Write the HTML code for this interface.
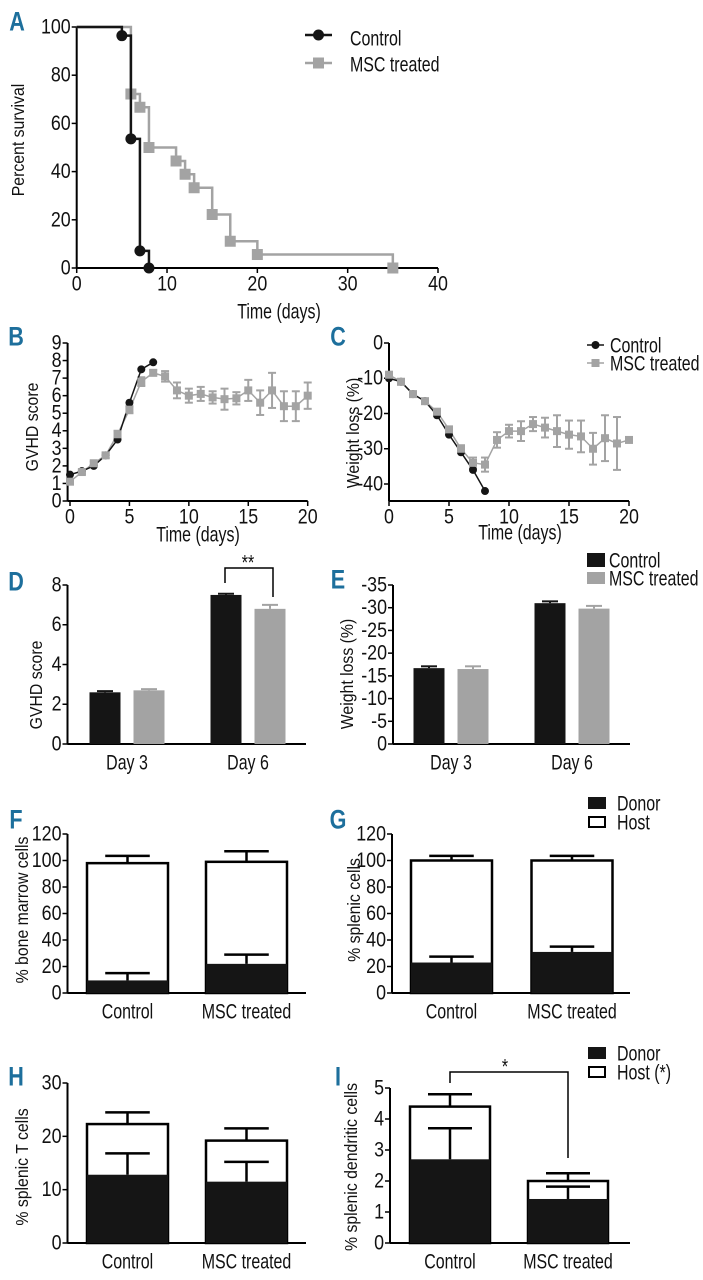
<!DOCTYPE html>
<html><head><meta charset="utf-8">
<style>
html,body{margin:0;padding:0;background:#fff;}
svg{display:block;}
.t{font-family:"Liberation Sans",sans-serif;font-size:21px;fill:#111;}
.n{font-family:"Liberation Sans",sans-serif;font-size:21px;fill:#111;}
.yl{font-family:"Liberation Sans",sans-serif;font-size:18px;fill:#111;}
.pl{font-family:"Liberation Sans",sans-serif;font-size:27px;font-weight:bold;fill:#1d6f9c;}
</style></head>
<body>
<svg id="fig" xmlns="http://www.w3.org/2000/svg" width="703" height="1280" viewBox="0 0 703 1280"></svg>
<script>
// ---------- data ----------
// Panel A (Kaplan-Meier)
const aCtrlTimes=[5,6,7,8];
const aCtrlSurv=[96.4,53.6,7.1,0];
const aMscTimes=[6,7,8,11,12,13,15,17,20,35];
const aMscSurv=[72.2,66.7,50,44.4,38.9,33.3,22.2,11.1,5.6,0];
const aXTicks=[0,10,20,30,40];
const aYTicks=[0,20,40,60,80,100];
// Panel B (GVHD score over time)
const bCtrlDays=[0,1,2,3,4,5,6,7];
const bCtrlVals=[1.5,1.7,2.0,2.6,3.5,5.6,7.5,7.9];
const bMscDays=[0,1,2,3,4,5,6,7,8,9,10,11,12,13,14,15,16,17,18,19,20];
const bMscVals=[1.1,1.65,2.15,2.6,3.8,5.2,6.8,7.3,7.1,6.3,6.0,6.1,5.9,5.8,5.85,6.3,5.6,6.3,5.4,5.4,6.0];
const bMscErr=[0.15,0.1,0.1,0.15,0.2,0.2,0.25,0.15,0.3,0.45,0.4,0.4,0.35,0.6,0.35,0.6,0.7,1.0,0.85,0.85,0.75];
const bXTicks=[0,5,10,15,20];
const bYTicks=[0,1,2,3,4,5,6,7,8,9];
// Panel C (weight loss over time)
const cCtrlDays=[0,1,2,3,4,5,6,7,8];
const cCtrlVals=[-10,-11,-14.5,-16.5,-20.5,-26,-31,-36,-42];
const cMscDays=[0,1,2,3,4,5,6,7,8,9,10,11,12,13,14,15,16,17,18,19,20];
const cMscVals=[-9,-11,-14.5,-16.5,-19.5,-24.5,-30,-34,-34.5,-27.5,-25,-25,-23,-24,-25,-26,-26.5,-30,-27,-28.5,-27.5];
const cMscErr=[0.8,0.8,0.5,0.5,0.8,0.8,1,1.5,2,2.2,1.8,2.8,2,2.8,4.5,4,4.5,4.5,6.5,7.5,0];
const cXTicks=[0,5,10,15,20];
const cYTicks=[0,-10,-20,-30,-40];
// Panels D & E
const deCats=["Day 3","Day 6"];
const dCtrl=[2.6,7.5], dCtrlErr=[0.06,0.06];
const dMsc=[2.7,6.8], dMscErr=[0.06,0.2];
const dYTicks=[0,2,4,6,8];
const eCtrl=[-16.7,-31.0], eCtrlErr=[-0.4,-0.4];
const eMsc=[-16.5,-29.8], eMscErr=[-0.6,-0.6];
const eYTicks=[0,-5,-10,-15,-20,-25,-30,-35];
// Panels F-I (stacked donor/host)
const fgCats=["Control","MSC treated"];
const fDonor=[9.5,22], fDonorErr=[5.5,7], fTotal=[98,99], fTotalErr=[5.5,8];
const gDonor=[23,31], gDonorErr=[4.5,4], gTotal=[100,100], gTotalErr=[3.5,3.5];
const fgYTicks=[0,20,40,60,80,100,120];
const hDonor=[12.8,11.5], hDonorErr=[4,3.7], hTotal=[22.3,19.2], hTotalErr=[2.2,2.3];
const hYTicks=[0,10,20,30];
const iDonor=[2.7,1.42], iDonorErr=[1.0,0.4], iTotal=[4.4,2.0], iTotalErr=[0.4,0.25];
const iYTicks=[0,1,2,3,4,5];

// ---------- helpers ----------
const NS="http://www.w3.org/2000/svg";
const svg=document.getElementById('fig');
function el(tag,attrs,name){
  const e=document.createElementNS(NS,tag);
  for(const k in attrs) e.setAttribute(k,attrs[k]);
  
  
  svg.appendChild(e);
  return e;
}
const SX={t:0.76,n:0.85,yl:0.88,pl:0.8};
function txt(x,y,s,cls,name,anchor,rot){
  const sx=SX[cls]||1;
  const tr='translate('+x+' '+y+')'+(rot?' rotate(-90)':'')+' scale('+sx+' 1)';
  const a={x:0,y:0,class:cls,'text-anchor':anchor||'middle','dominant-baseline':'central',transform:tr};
  const e=el('text',a,name);
  e.textContent=s;
  return e;
}
function lin(d0,d1,r0,r1){return v=>r0+(v-d0)*(r1-r0)/(d1-d0);}
const GRAY="#a3a3a3", BLK="#151515";

function axes(x0,x1,yTop,yBot,xAxisY,yTicks,ys,yFmt,prefix,xTicks,xs){
  el('line',{x1:x0,y1:yTop,x2:x0,y2:yBot,stroke:'#000','stroke-width':2},prefix+'-y-axis');
  el('line',{x1:x0,y1:xAxisY,x2:x1,y2:xAxisY,stroke:'#000','stroke-width':2},prefix+'-x-axis');
  yTicks.forEach(t=>{
    el('line',{x1:x0-5,y1:ys(t),x2:x0,y2:ys(t),stroke:'#000','stroke-width':1.5},prefix+'-y-tick');
    txt(x0-6,ys(t),yFmt(t),'n',prefix+'-y-tick-label','end');
  });
  if(xTicks) xTicks.forEach(t=>{
    el('line',{x1:xs(t),y1:xAxisY,x2:xs(t),y2:xAxisY+5,stroke:'#000','stroke-width':1.5},prefix+'-x-tick');
    txt(xs(t),xAxisY+16,String(t),'n',prefix+'-x-tick-label');
  });
}
function circ(x,y,r,name){el('circle',{cx:x,cy:y,r:r,fill:BLK},name);}
function sq(x,y,s,name){el('rect',{x:x-s/2,y:y-s/2,width:s,height:s,fill:GRAY},name);}
function errBar(x,y0,y1,cap,color,w,name){
  el('line',{x1:x,y1:y0,x2:x,y2:y1,stroke:color,'stroke-width':w},name);
  el('line',{x1:x-cap/2,y1:y1,x2:x+cap/2,y2:y1,stroke:color,'stroke-width':w},name+'-cap');
}

// ---------- Panel A ----------
txt(17,22,'A','pl','panel-label-a');
const xA=lin(0,40,76.7,438), yA=lin(0,100,268,27);
axes(76.7,438,27,268,268,aYTicks,yA,String,'a',aXTicks,xA);
txt(18,140,'Percent survival','yl','a-y-axis-title','middle',true);
txt(279,311,'Time (days)','t','a-x-axis-title');
function kmPath(times,vals){
  let d='M'+xA(0)+' '+yA(100);
  times.forEach((t,i)=>{d+=' H'+xA(t)+' V'+yA(vals[i]);});
  return d;
}
el('path',{d:kmPath(aMscTimes,aMscSurv),fill:'none',stroke:GRAY,'stroke-width':2.5},'a-msc-line');
aMscTimes.forEach((t,i)=>sq(xA(t),yA(aMscSurv[i]),11,'a-msc-marker'));
el('path',{d:kmPath(aCtrlTimes,aCtrlSurv),fill:'none',stroke:BLK,'stroke-width':2.5},'a-control-line');
aCtrlTimes.forEach((t,i)=>circ(xA(t),yA(aCtrlSurv[i]),5.5,'a-control-marker'));
el('line',{x1:305,y1:35,x2:332,y2:35,stroke:BLK,'stroke-width':2.5},'a-legend-control-line');
circ(318.5,35,5.5,'a-legend-control-marker');
txt(350,38,'Control','t','a-legend-control-label','start').setAttribute('font-size','23');
el('line',{x1:305,y1:63,x2:332,y2:63,stroke:GRAY,'stroke-width':2.5},'a-legend-msc-line');
sq(318.5,63,11,'a-legend-msc-marker');
txt(350,64,'MSC treated','t','a-legend-msc-label','start').setAttribute('font-size','23');

// ---------- Panel B ----------
txt(16,337,'B','pl','panel-label-b');
const xB=lin(0,20,70,307.7), yB=lin(0,9,501,343);
axes(67.6,307.7,343,501,501,bYTicks,yB,String,'b',bXTicks,xB);
txt(32,427,'GVHD score','yl','b-y-axis-title','middle',true);
txt(198,534,'Time (days)','t','b-x-axis-title');
bMscDays.forEach((d,i)=>errBar(xB(d),yB(bMscVals[i]-bMscErr[i]),yB(bMscVals[i]+bMscErr[i]),8,GRAY,2,'b-msc-error'));
bMscDays.forEach((d,i)=>el('line',{x1:xB(d)-4,y1:yB(bMscVals[i]-bMscErr[i]),x2:xB(d)+4,y2:yB(bMscVals[i]-bMscErr[i]),stroke:GRAY,'stroke-width':2},'b-msc-error-lowcap'));
el('polyline',{points:bMscDays.map((d,i)=>xB(d)+','+yB(bMscVals[i])).join(' '),fill:'none',stroke:GRAY,'stroke-width':1.5},'b-msc-line');
el('polyline',{points:bCtrlDays.map((d,i)=>xB(d)+','+yB(bCtrlVals[i])).join(' '),fill:'none',stroke:BLK,'stroke-width':1.5},'b-control-line');
bCtrlDays.forEach((d,i)=>circ(xB(d),yB(bCtrlVals[i]),4,'b-control-marker'));
bMscDays.forEach((d,i)=>sq(xB(d),yB(bMscVals[i]),8,'b-msc-marker'));

// ---------- Panel C ----------
txt(338,337,'C','pl','panel-label-c');
const xC=lin(0,20,389,629), yC=lin(0,-40,343,484);
axes(389,629,343,501,501,cYTicks,yC,String,'c',cXTicks,xC);
txt(353,433,'Weight loss (%)','yl','c-y-axis-title','middle',true);
txt(520,532,'Time (days)','t','c-x-axis-title');
cMscDays.forEach((d,i)=>{if(cMscErr[i]>0){errBar(xC(d),yC(cMscVals[i]-cMscErr[i]),yC(cMscVals[i]+cMscErr[i]),8,GRAY,2,'c-msc-error');
 el('line',{x1:xC(d)-4,y1:yC(cMscVals[i]-cMscErr[i]),x2:xC(d)+4,y2:yC(cMscVals[i]-cMscErr[i]),stroke:GRAY,'stroke-width':2},'c-msc-error-lowcap');}});
el('polyline',{points:cMscDays.map((d,i)=>xC(d)+','+yC(cMscVals[i])).join(' '),fill:'none',stroke:GRAY,'stroke-width':1.5},'c-msc-line');
el('polyline',{points:cCtrlDays.map((d,i)=>xC(d)+','+yC(cCtrlVals[i])).join(' '),fill:'none',stroke:BLK,'stroke-width':1.5},'c-control-line');
cCtrlDays.forEach((d,i)=>circ(xC(d),yC(cCtrlVals[i]),4,'c-control-marker'));
cMscDays.forEach((d,i)=>sq(xC(d),yC(cMscVals[i]),8,'c-msc-marker'));
el('line',{x1:587,y1:345,x2:604,y2:345,stroke:BLK,'stroke-width':1.5},'c-legend-control-line');
circ(595.5,345,4,'c-legend-control-marker');
txt(610,345,'Control','t','c-legend-control-label','start');
el('line',{x1:587,y1:363,x2:604,y2:363,stroke:GRAY,'stroke-width':1.5},'c-legend-msc-line');
sq(595.5,363,8,'c-legend-msc-marker');
txt(610,363,'MSC treated','t','c-legend-msc-label','start');

// ---------- Panels D & E ----------
function groupedBars(prefix,ys,cats,gx,ctrl,ctrlErr,msc,mscErr){
  cats.forEach((c,i)=>{
    const g=gx(i);
    [[ctrl,ctrlErr,BLK,-22,'control'],[msc,mscErr,GRAY,22,'msc']].forEach(s=>{
      const cx=g+s[3], v=s[0][i];
      errBar(cx,ys(v),ys(v+s[1][i]),16,s[2],2,prefix+'-'+s[4]+'-error');
      el('rect',{x:cx-15.5,y:ys(v),width:31,height:ys(0)-ys(v),fill:s[2]},prefix+'-bar-'+s[4]+'-'+i);
    });
    txt(g,762,c,'t',prefix+'-x-tick-label');
  });
}
txt(16,582,'D','pl','panel-label-d');
const yD=lin(0,8,744,585);
axes(67.5,306,585,744,744,dYTicks,yD,String,'d');
txt(36,685,'GVHD score','yl','d-y-axis-title','middle',true);
groupedBars('d',yD,deCats,i=>127+121*i,dCtrl,dCtrlErr,dMsc,dMscErr);
el('polyline',{points:'225,583 225,568 273,568 273,597',fill:'none',stroke:'#000','stroke-width':1.5},'d-significance-bracket');
txt(248,562,'**','t','d-significance-label').setAttribute('font-size','12');

txt(338,580,'E','pl','panel-label-e');
const yE=lin(0,-35,744,585);
axes(393,630,585,744,744,eYTicks,yE,String,'e');
txt(347,674,'Weight loss (%)','yl','e-y-axis-title','middle',true);
groupedBars('e',yE,deCats,i=>451+121*i,eCtrl,eCtrlErr,eMsc,eMscErr);
el('rect',{x:587,y:553,width:18,height:14,fill:BLK},'e-legend-control-swatch');
txt(609,560,'Control','t','e-legend-control-label','start');
el('rect',{x:587,y:572,width:18,height:12,fill:GRAY},'e-legend-msc-swatch');
txt(609,578,'MSC treated','t','e-legend-msc-label','start');

// ---------- Stacked panels ----------
function stacked(prefix,ys,centers,w,donor,donorErr,total,totalErr){
  centers.forEach((cx,i)=>{
    errBar(cx,ys(total[i]),ys(total[i]+totalErr[i]),w*0.55,'#000',2.5,prefix+'-total-error');
    el('rect',{x:cx-w/2,y:ys(total[i]),width:w,height:ys(0)-ys(total[i]),fill:'#fff',stroke:'#000','stroke-width':2.5},prefix+'-host-bar-'+i);
    el('rect',{x:cx-w/2,y:ys(donor[i]),width:w,height:ys(0)-ys(donor[i]),fill:BLK},prefix+'-donor-bar-'+i);
    errBar(cx,ys(donor[i]),ys(donor[i]+donorErr[i]),w*0.55,'#000',2.5,prefix+'-donor-error');
    txt(cx,ys(0)+18,fgCats[i],'t',prefix+'-x-tick-label');
  });
}
function legendDH(y,hostLabel,prefix){
  el('rect',{x:588,y:y,width:18,height:12,fill:BLK},prefix+'-legend-donor-swatch');
  txt(617,y+6,'Donor','t',prefix+'-legend-donor-label','start');
  el('rect',{x:589,y:y+20,width:16,height:10,fill:'#fff',stroke:'#000','stroke-width':2},prefix+'-legend-host-swatch');
  txt(617,y+25,hostLabel,'t',prefix+'-legend-host-label','start');
}
txt(16,820,'F','pl','panel-label-f');
const yF=lin(0,120,993,834);
axes(67.5,306,834,993,993,fgYTicks,yF,String,'f');
txt(22,910,'% bone marrow cells','yl','f-y-axis-title','middle',true);
stacked('f',yF,[127.5,246.5],81,fDonor,fDonorErr,fTotal,fTotalErr);

txt(338,820,'G','pl','panel-label-g');
const yG=lin(0,120,993,834);
axes(392,630,834,993,993,fgYTicks,yG,String,'g');
txt(354,910,'% splenic cells','yl','g-y-axis-title','middle',true);
stacked('g',yG,[451.5,572],81,gDonor,gDonorErr,gTotal,gTotalErr);
legendDH(797,'Host','g');

txt(16,1077,'H','pl','panel-label-h');
const yH=lin(0,30,1243,1083);
axes(67.5,306,1083,1243,1243,hYTicks,yH,String,'h');
txt(22,1167,'% splenic T cells','yl','h-y-axis-title','middle',true);
stacked('h',yH,[127.5,246.5],81,hDonor,hDonorErr,hTotal,hTotalErr);

txt(338,1077,'I','pl','panel-label-i');
const yI=lin(0,5,1243,1088);
axes(390,630,1088,1243,1243,iYTicks,yI,String,'i');
txt(351,1167,'% splenic dendritic cells','yl','i-y-axis-title','middle',true);
stacked('i',yI,[450,568],80,iDonor,iDonorErr,iTotal,iTotalErr);
el('polyline',{points:'450,1083 450,1072 568,1072 568,1158',fill:'none',stroke:'#000','stroke-width':1.5},'i-significance-bracket');
txt(505,1066,'*','t','i-significance-label').setAttribute('font-size','12');
legendDH(1047,'Host (*)','i');
</script>
</body></html>
